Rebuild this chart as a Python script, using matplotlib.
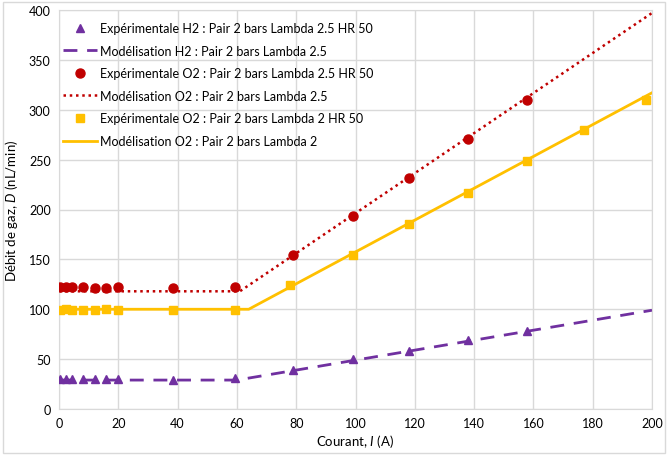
import numpy as np
import matplotlib.pyplot as plt
from matplotlib.patches import Rectangle

plt.rcParams['font.family'] = ['Lato', 'DejaVu Sans']
plt.rcParams['mathtext.fontset'] = 'custom'
plt.rcParams['mathtext.it'] = 'Lato:italic'
plt.rcParams['mathtext.rm'] = 'Lato'

# experimental data
x_low = [0.3, 2.3, 4.3, 8.2, 12.1, 16, 19.8, 38.6, 59.5]
x_h2 = x_low + [79, 99, 118, 138, 158]
y_h2 = [30, 30, 30, 30, 30, 30, 30, 29.5, 31, 39, 50, 58, 69, 78]
x_o2_25 = x_low + [79, 99, 118, 138, 158]
y_o2_25 = [122, 122, 122, 122, 121.5, 121.5, 122, 121.5, 122, 154, 193, 232, 271, 310]
x_o2_2 = x_low + [78, 99, 118, 138, 158, 177, 198]
y_o2_2 = [99.5, 100, 99.5, 99.5, 99.5, 100, 99.5, 99.5, 99.5, 124, 154, 185, 217, 249, 280, 310]

# model lines (break points)
xm_h2 = [0, 60, 200]
ym_h2 = [29, 29, 99]
xm_o2_25 = [0, 61, 200]
ym_o2_25 = [118, 118, 397]
xm_o2_2 = [0, 64, 200]
ym_o2_2 = [100, 100, 317]

purple = '#7030A0'
red = '#C00000'
yellow = '#FFC000'

fig = plt.figure(figsize=(6.68, 4.56), dpi=100)
ax = fig.add_axes([59/668, 46/456, 593/668, 399/456])

ax.plot(x_h2, y_h2, '^', color=purple, markersize=6, label='Expérimentale H2 : Pair 2 bars Lambda 2.5 HR 50', zorder=3)
ax.plot(xm_h2, ym_h2, color=purple, lw=2, ls=(0, (5, 3.5)), label='Modélisation H2 : Pair 2 bars Lambda 2.5', zorder=2)
ax.plot(x_o2_25, y_o2_25, 'o', color=red, markersize=6.5, label='Expérimentale O2 : Pair 2 bars Lambda 2.5 HR 50', zorder=3)
ax.plot(xm_o2_25, ym_o2_25, color=red, lw=1.8, ls=(0, (1, 1.5)), label='Modélisation O2 : Pair 2 bars Lambda 2.5', zorder=2)
ax.plot(x_o2_2, y_o2_2, 's', color=yellow, markersize=5.5, label='Expérimentale O2 : Pair 2 bars Lambda 2 HR 50', zorder=3)
ax.plot(xm_o2_2, ym_o2_2, color=yellow, lw=2, label='Modélisation O2 : Pair 2 bars Lambda 2', zorder=2)

ax.set_xlim(0, 200)
ax.set_ylim(0, 400)
ax.set_xticks(np.arange(0, 201, 20))
ax.set_yticks(np.arange(0, 401, 50))
ax.grid(color='#D9D9D9', lw=1)
ax.set_axisbelow(True)
for s in ax.spines.values():
    s.set_color('#D9D9D9')
ax.tick_params(length=0, labelsize=9, colors='#000000', pad=6)
ax.set_xlabel('Courant, $I$ (A)', fontsize=9.5, labelpad=2)
ax.set_ylabel('Débit de gaz, $D$ (nL/min)', fontsize=9.5, labelpad=6)

ax.legend(loc='upper left', frameon=False, fontsize=9, bbox_to_anchor=(0.0067, 0.97),
          handlelength=2.7, handletextpad=0.3, labelspacing=0.85,
          borderaxespad=0, borderpad=0)

fig.patches.append(Rectangle((0.004, 0.004), 0.992, 0.99, transform=fig.transFigure,
                             fill=False, edgecolor='#D9D9D9', lw=1))

fig.savefig('out.png', dpi=100)
